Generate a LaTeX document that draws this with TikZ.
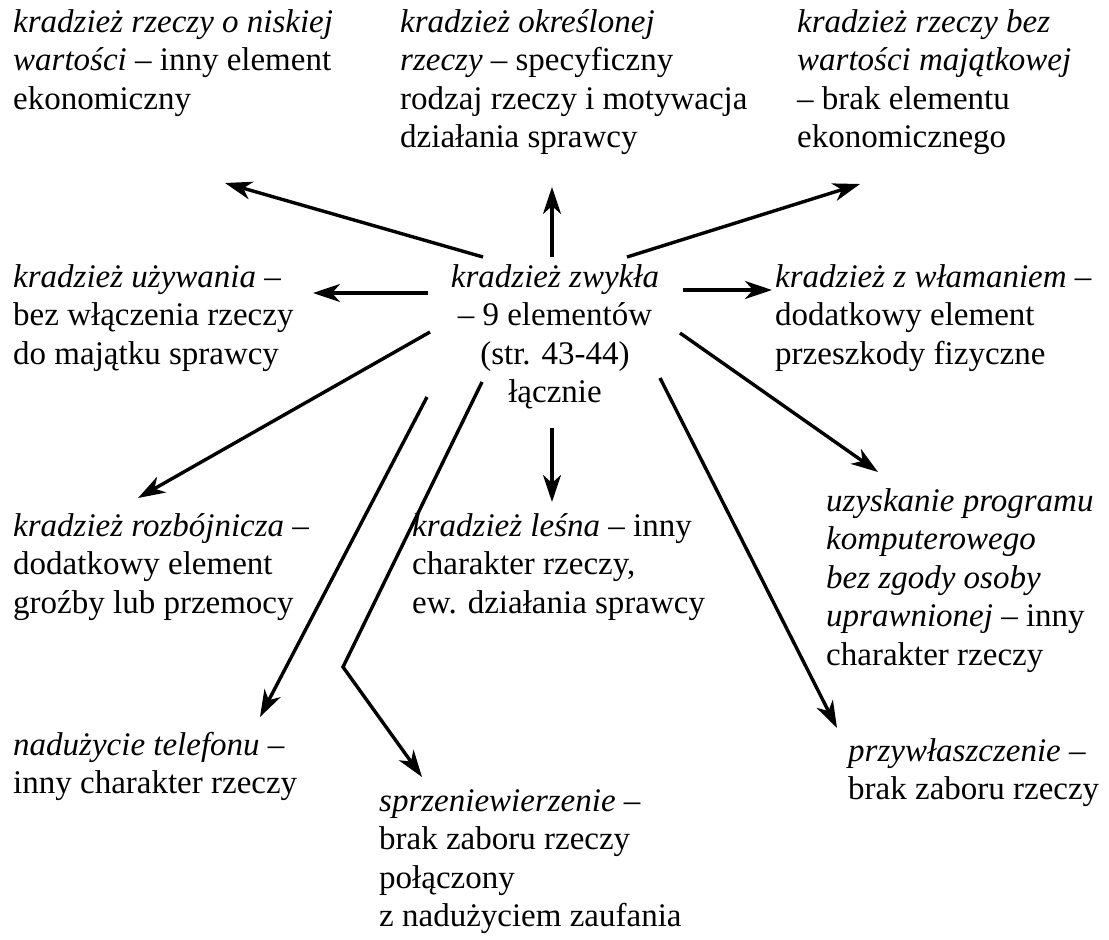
\documentclass[tikz,border=0pt]{standalone}
\usepackage{fontspec}
\setmainfont{Liberation Serif}
\usepackage{tikz}
\usetikzlibrary{arrows.meta}

\tikzset{
  opis/.style={inner sep=0pt, anchor=north west, align=left,
    font=\fontsize{33}{38.5}\selectfont},
  strz/.style={line width=3.4pt, -{Stealth[length=27pt, width=18pt, inset=8pt]}}
}

\begin{document}
\begin{tikzpicture}[x=1pt, y=-1pt]
  \useasboundingbox (0,0) rectangle (1109,940);

  % gorny rzad
  \node[opis] (niska) at (13,9) {\textit{kradzież rzeczy o niskiej}\\
    \textit{wartości} – inny element\\ ekonomiczny};
  \node[opis] (okresl) at (400,9) {\textit{kradzież określonej}\\
    \textit{rzeczy} – specyficzny\\ rodzaj rzeczy i motywacja\\ działania sprawcy};
  \node[opis] (bezwart) at (797,9) {\textit{kradzież rzeczy bez}\\
    \textit{wartości majątkowej}\\ – brak elementu\\ ekonomicznego};

  % srodek
  \node[opis] (uzyw) at (13,264) {\textit{kradzież używania} –\\
    bez włączenia rzeczy\\ do majątku sprawcy};
  \node[opis, anchor=north, align=center] (zwykla) at (555,264)
    {\textit{kradzież zwykła}\\ – 9 elementów\\ (str. 43-44)\\ łącznie};
  \node[opis] (wlam) at (775,264) {\textit{kradzież z włamaniem} –\\
    dodatkowy element\\ przeszkody fizyczne};

  % dolne
  \node[opis] (rozboj) at (13,513) {\textit{kradzież rozbójnicza} –\\
    dodatkowy element\\ groźby lub przemocy};
  \node[opis] (lesna) at (412,513) {\textit{kradzież leśna} – inny\\
    charakter rzeczy,\\ ew. działania sprawcy};
  \node[opis] (program) at (826,488) {\textit{uzyskanie programu}\\
    \textit{komputerowego}\\ \textit{bez zgody osoby}\\
    \textit{uprawnionej} – inny\\ charakter rzeczy};
  \node[opis] (telefon) at (13,732) {\textit{nadużycie telefonu} –\\
    inny charakter rzeczy};
  \node[opis] (przywl) at (848,738) {\textit{przywłaszczenie} –\\
    brak zaboru rzeczy};
  \node[opis] (sprzen) at (379,789) {\textit{sprzeniewierzenie} –\\
    brak zaboru rzeczy\\ połączony\\ z nadużyciem zaufania};

  % poczatki i konce strzalek
  \coordinate (s1) at (483,257);  \coordinate (k1) at (225,183);
  \coordinate (s2) at (552,257);  \coordinate (k2) at (552,187);
  \coordinate (s3) at (627,257);  \coordinate (k3) at (860,184);
  \coordinate (s4) at (428,293);  \coordinate (k4) at (313,293);
  \coordinate (s5) at (683,290);  \coordinate (k5) at (772,290);
  \coordinate (s6) at (430,332);  \coordinate (k6) at (138,498);
  \coordinate (s7) at (552,428);  \coordinate (k7) at (552,502);
  \coordinate (s8) at (427,397);  \coordinate (k8) at (260,717);
  \coordinate (s9) at (482,382);  \coordinate (z9) at (343,667);
  \coordinate (k9) at (422,777);
  \coordinate (s10) at (660,378); \coordinate (k10) at (837,728);
  \coordinate (s11) at (680,333); \coordinate (k11) at (878,472);

  \draw[strz] (s1) -- (k1);
  \draw[strz] (s2) -- (k2);
  \draw[strz] (s3) -- (k3);
  \draw[strz] (s4) -- (k4);
  \draw[strz] (s5) -- (k5);
  \draw[strz] (s6) -- (k6);
  \draw[strz] (s7) -- (k7);
  \draw[strz] (s8) -- (k8);
  \draw[strz] (s9) -- (z9) -- (k9);
  \draw[strz] (s10) -- (k10);
  \draw[strz] (s11) -- (k11);
\end{tikzpicture}
\end{document}
